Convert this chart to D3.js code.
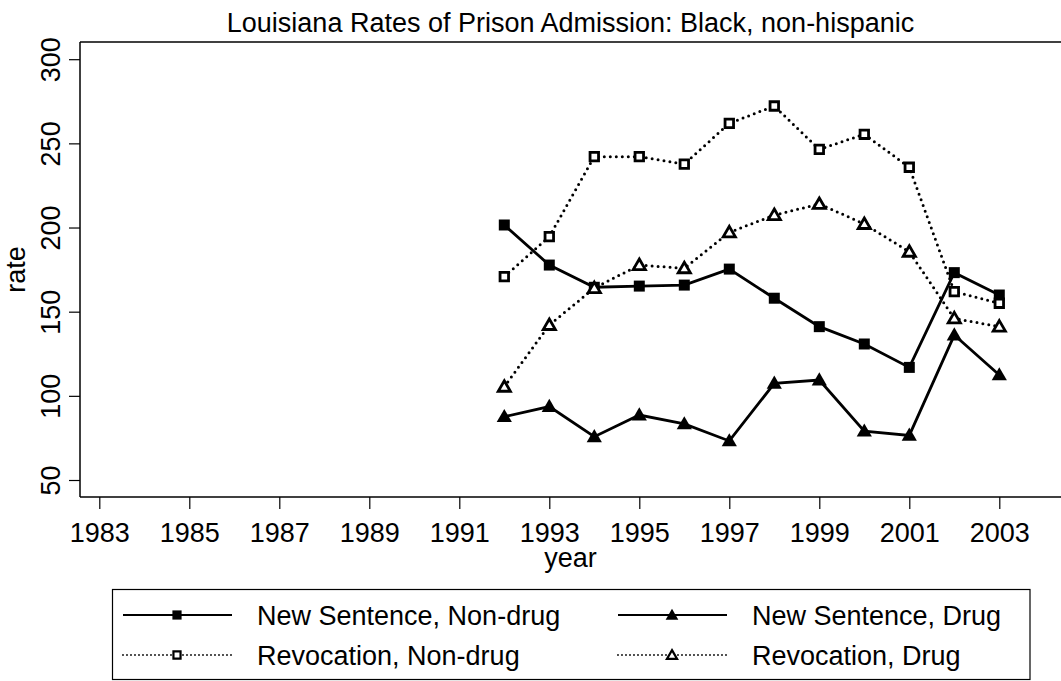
<!DOCTYPE html>
<html>
<head>
<meta charset="utf-8">
<script src="https://cdn.jsdelivr.net/npm/d3@7"></script>
<style>
  body { margin: 0; background: #fff; }
  text { font-family: "Liberation Sans", Arial, sans-serif; fill: #000; }
</style>
</head>
<body>
<div id="chart"></div>
<script>
const years = [1992, 1993, 1994, 1995, 1996, 1997, 1998, 1999, 2000, 2001, 2002, 2003];
const newNonDrug = [201.5, 177.7, 164.5, 165.2, 165.8, 175.3, 158.0, 141.1, 130.8, 116.9, 173.2, 159.9];
const newDrug = [87.6, 93.6, 75.7, 88.6, 83.3, 73.2, 107.4, 109.4, 79.0, 76.5, 136.1, 112.4];
const revNonDrug = [170.8, 194.6, 242.1, 242.1, 237.7, 261.9, 272.2, 246.4, 255.4, 235.8, 161.9, 155.0];
const revDrug = [105.4, 142.1, 164.0, 177.7, 175.8, 197.1, 207.4, 214.0, 202.1, 185.6, 146.0, 141.1];
const xTicks = [1983, 1985, 1987, 1989, 1991, 1993, 1995, 1997, 1999, 2001, 2003];
const yTicks = [50, 100, 150, 200, 250, 300];

const series = [
    {name: 'New Sentence, Non-drug', values: newNonDrug, dotted: false, shape: 'square', filled: true},
    {name: 'New Sentence, Drug', values: newDrug, dotted: false, shape: 'triangle', filled: true},
    {name: 'Revocation, Non-drug', values: revNonDrug, dotted: true, shape: 'square', filled: false},
    {name: 'Revocation, Drug', values: revDrug, dotted: true, shape: 'triangle', filled: false}
];

const width = 1061, height = 681;
const plot = {left: 80, top: 42, bottom: 497, right: 1061};
const fontSize = '27px';

const svg = d3.select('#chart')
    .append('svg')
    .attr('width', width)
    .attr('height', height);

const x = d3.scaleLinear().domain([1983, 2003]).range([99.3, 999.3]);
const y = d3.scaleLinear().domain([50, 300]).range([480, 59.2]);

// title
svg.append('text')
    .attr('x', (plot.left + plot.right) / 2)
    .attr('y', 32)
    .attr('text-anchor', 'middle')
    .style('font-size', fontSize)
    .text('Louisiana Rates of Prison Admission: Black, non-hispanic');

// frame lines (top + x axis)
svg.append('line')
    .attr('x1', plot.left).attr('x2', plot.right)
    .attr('y1', plot.top).attr('y2', plot.top)
    .attr('stroke', '#000').attr('stroke-width', 1.5);

const xAxis = d3.axisBottom(x).tickValues(xTicks).tickFormat(d3.format('d'))
    .tickSize(12).tickPadding(14);
const gx = svg.append('g')
    .attr('transform', `translate(0,${plot.bottom})`)
    .call(xAxis);
gx.select('.domain').remove();
gx.append('line')
    .attr('x1', plot.left).attr('x2', plot.right)
    .attr('stroke', '#000').attr('stroke-width', 1.5);
gx.selectAll('.tick line').attr('stroke', '#000').attr('stroke-width', 1.2);
gx.selectAll('.tick text')
    .style('font-size', fontSize)
    .style('font-family', '"Liberation Sans", Arial, sans-serif')
    .attr('fill', '#000');

const yAxis = d3.axisLeft(y).tickValues(yTicks).tickSize(11).tickPadding(4);
const gy = svg.append('g')
    .attr('transform', `translate(${plot.left},0)`)
    .call(yAxis);
gy.select('.domain').remove();
gy.append('line')
    .attr('y1', plot.top).attr('y2', plot.bottom)
    .attr('stroke', '#000').attr('stroke-width', 1.5);
gy.selectAll('.tick line').attr('stroke', '#000').attr('stroke-width', 1.2);
gy.selectAll('.tick text')
    .attr('x', 0).attr('dy', 0)
    .attr('transform', 'translate(-20,0) rotate(-90)')
    .attr('text-anchor', 'middle')
    .style('font-size', fontSize)
    .style('font-family', '"Liberation Sans", Arial, sans-serif')
    .attr('fill', '#000');

// axis titles
svg.append('text')
    .attr('transform', `translate(25,${(plot.top + plot.bottom) / 2}) rotate(-90)`)
    .attr('text-anchor', 'middle')
    .style('font-size', fontSize)
    .text('rate');
svg.append('text')
    .attr('x', (plot.left + plot.right) / 2)
    .attr('y', 567)
    .attr('text-anchor', 'middle')
    .style('font-size', fontSize)
    .text('year');

function symbolFor(s, big) {
    const type = s.shape === 'square' ? d3.symbolSquare : d3.symbolTriangle;
    let size;
    if (s.shape === 'square') size = s.filled ? 121 : 72;
    else size = s.filled ? 100 : 64;
    if (!big) size = size * 0.7;
    return d3.symbol().type(type).size(size)();
}

const line = d3.line()
    .x((d, i) => x(years[i]))
    .y(d => y(d));

const g = svg.append('g');

series.forEach(s => {
    g.append('path')
        .attr('d', line(s.values))
        .attr('fill', 'none')
        .attr('stroke', '#000')
        .attr('stroke-width', s.dotted ? 3 : 2.8)
        .attr('stroke-linecap', s.dotted ? 'round' : 'butt')
        .attr('stroke-dasharray', s.dotted ? '0,6' : null);
});

series.forEach(s => {
    const dy = s.shape === 'triangle' ? 1 : 0;
    g.selectAll(null)
        .data(s.values)
        .enter()
        .append('path')
        .attr('d', symbolFor(s, true))
        .attr('transform', (d, i) => `translate(${x(years[i])},${y(d) + dy})`)
        .attr('fill', s.filled ? '#000' : '#fff')
        .attr('stroke', '#000')
        .attr('stroke-width', s.filled ? 0 : 2.8);
});

// legend
const legend = svg.append('g');
legend.append('rect')
    .attr('x', 112.5).attr('y', 589.5)
    .attr('width', 917.5).attr('height', 90)
    .attr('fill', 'none')
    .attr('stroke', '#000')
    .attr('stroke-width', 1.2);

const cols = [123, 618];
const rows = [615, 655];
series.forEach((s, i) => {
    const cx = cols[i % 2];
    const cy = rows[Math.floor(i / 2)];
    legend.append('line')
        .attr('x1', cx).attr('x2', cx + 109)
        .attr('y1', cy).attr('y2', cy)
        .attr('stroke', '#000')
        .attr('stroke-width', s.dotted ? 1.8 : 2.2)
        .attr('stroke-linecap', s.dotted ? 'round' : 'butt')
        .attr('stroke-dasharray', s.dotted ? '0,4' : null);
    legend.append('path')
        .attr('d', symbolFor(s, false))
        .attr('transform', `translate(${cx + 54},${cy + (s.shape === 'triangle' ? 1 : 0)})`)
        .attr('fill', s.filled ? '#000' : '#fff')
        .attr('stroke', '#000')
        .attr('stroke-width', s.filled ? 0 : 2.2);
    legend.append('text')
        .attr('x', cx + 134)
        .attr('y', cy + 10)
        .style('font-size', fontSize)
        .text(s.name);
});
</script>
</body>
</html>
